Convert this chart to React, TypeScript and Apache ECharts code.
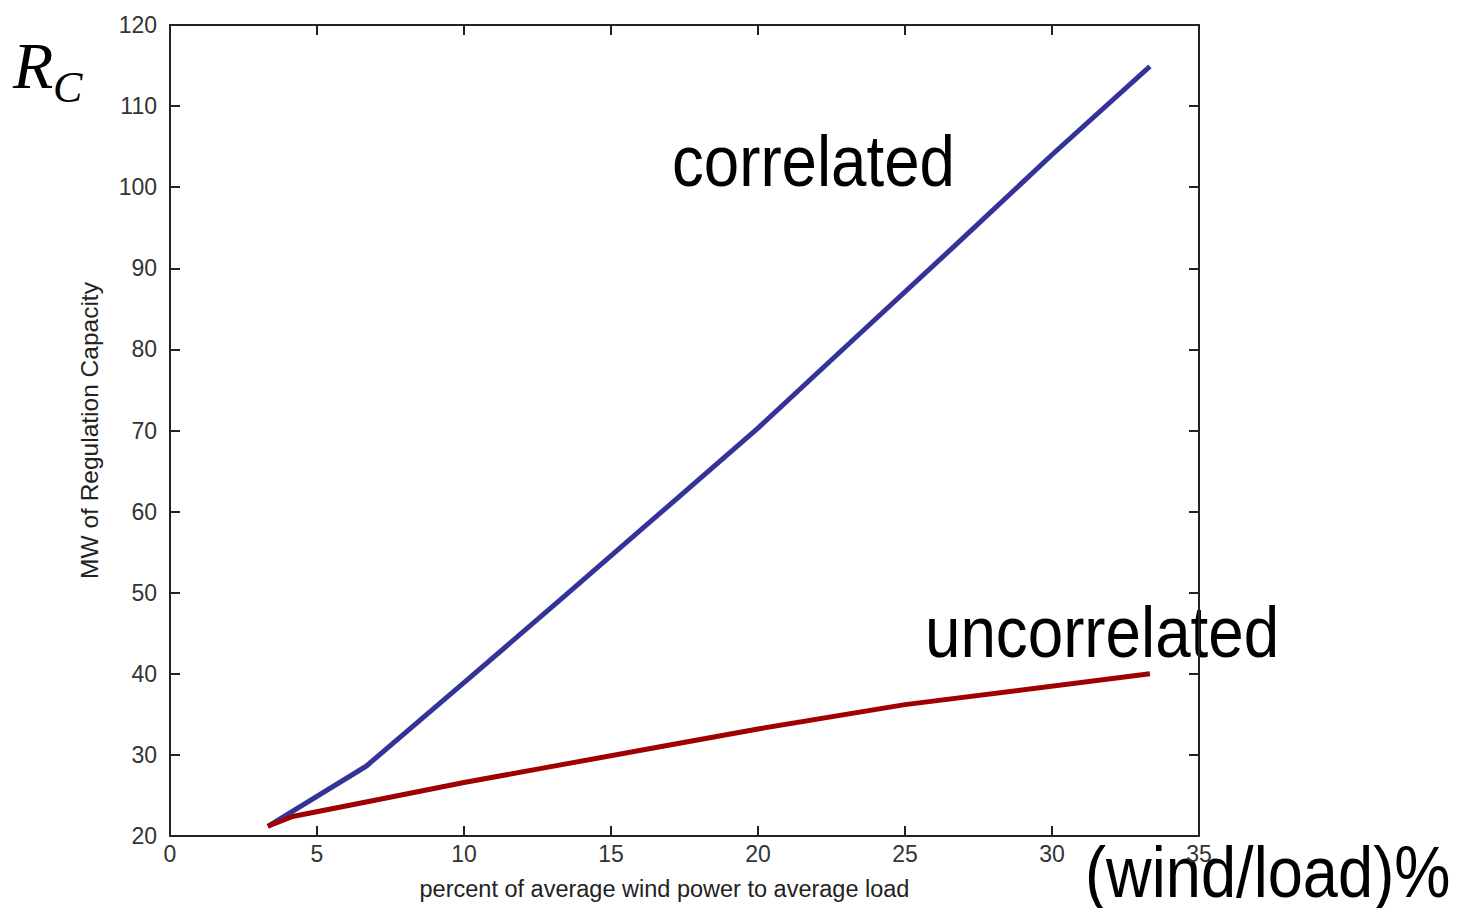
import React, { useEffect, useRef } from "react";
import * as echarts from "echarts";

const xTicks = [0, 5, 10, 15, 20, 25, 30, 35];
const yTicks = [20, 30, 40, 50, 60, 70, 80, 90, 100, 110, 120];

const correlatedX = [3.33, 6.67, 10, 13.33, 16.67, 20, 23.33, 26.67, 30, 33.33];
const correlatedY = [21.2, 28.6, 38.9, 49.3, 59.8, 70.3, 81.5, 92.7, 104.0, 114.9];

const uncorrelatedX = [3.33, 4.17, 6.67, 10, 13.33, 16.67, 20, 25, 33.33];
const uncorrelatedY = [21.2, 22.4, 24.2, 26.6, 28.8, 31.0, 33.2, 36.2, 40.0];

const xName = "percent of average wind power to average load";
const yName = "MW of Regulation Capacity";

const tickFont = "'Liberation Sans Narrow', 'Arial Narrow', 'Liberation Sans', sans-serif";
const sansFont = "'Liberation Sans', Arial, Helvetica, sans-serif";
const serifFont = "'Liberation Serif', 'Times New Roman', serif";

export default function App() {
  const ref = useRef<HTMLDivElement>(null);

  useEffect(() => {
    if (!ref.current) return;
    const chart = echarts.init(ref.current, null, { renderer: "svg" });
    const mkLine = () => ({ show: true, onZero: false, lineStyle: { color: "#222", width: 2 } });
    const mkTick = () => ({ show: true, inside: true, length: 10, lineStyle: { color: "#222", width: 2 } });
    const xMin = xTicks[0];
    const xMax = xTicks[xTicks.length - 1];
    const yMin = yTicks[0];
    const yMax = yTicks[yTicks.length - 1];
    const option: any = {
      animation: false,
      backgroundColor: "#fff",
      grid: { left: 170, top: 25, right: 269, bottom: 72, containLabel: false },
      xAxis: [
        {
          type: "value",
          min: xMin,
          max: xMax,
          interval: 5,
          position: "bottom",
          z: 5,
          axisLine: mkLine(),
          axisTick: mkTick(),
          splitLine: { show: false },
          axisLabel: { color: "#333", fontFamily: tickFont, fontSize: 23, margin: 6 },
          name: xName,
          nameLocation: "middle",
          nameGap: 41,
          nameTextStyle: { color: "#222", fontFamily: sansFont, fontSize: 23.5, padding: [0, 40, 0, 0] },
        },
        {
          type: "value",
          min: xMin,
          max: xMax,
          interval: 5,
          position: "top",
          axisLine: mkLine(),
          axisTick: mkTick(),
          splitLine: { show: false },
          axisLabel: { show: false },
        },
      ],
      yAxis: [
        {
          type: "value",
          min: yMin,
          max: yMax,
          interval: 10,
          position: "left",
          axisLine: mkLine(),
          axisTick: mkTick(),
          splitLine: { show: false },
          axisLabel: { color: "#333", fontFamily: tickFont, fontSize: 23, margin: 13 },
          name: yName,
          nameLocation: "middle",
          nameGap: 68,
          nameTextStyle: { color: "#222", fontFamily: sansFont, fontSize: 24.5 },
        },
        {
          type: "value",
          min: yMin,
          max: yMax,
          interval: 10,
          position: "right",
          axisLine: mkLine(),
          axisTick: mkTick(),
          splitLine: { show: false },
          axisLabel: { show: false },
        },
      ],
      series: [
        {
          name: "correlated",
          type: "line",
          showSymbol: false,
          lineStyle: { color: "#333399", width: 5 },
          data: correlatedX.map((x, i) => [x, correlatedY[i]]),
        },
        {
          name: "uncorrelated",
          type: "line",
          showSymbol: false,
          lineStyle: { color: "#a00000", width: 5 },
          data: uncorrelatedX.map((x, i) => [x, uncorrelatedY[i]]),
        },
      ],
      graphic: [
        {
          type: "text",
          x: 13,
          y: 65,
          style: { text: "R", font: `italic 66px ${serifFont}`, fill: "#000", textAlign: "left", textVerticalAlign: "middle" },
        },
        {
          type: "text",
          x: 53,
          y: 87,
          style: { text: "C", font: `italic 44px ${serifFont}`, fill: "#000", textAlign: "left", textVerticalAlign: "middle" },
        },
        {
          type: "text",
          x: 672,
          y: 161,
          scaleX: 0.884,
          style: { text: "correlated", font: `72px ${sansFont}`, fill: "#000", textAlign: "left", textVerticalAlign: "middle" },
        },
        {
          type: "text",
          x: 925,
          y: 632,
          scaleX: 0.885,
          style: { text: "uncorrelated", font: `72px ${sansFont}`, fill: "#000", textAlign: "left", textVerticalAlign: "middle" },
        },
        {
          type: "text",
          x: 1085,
          y: 872,
          z: -1,
          scaleX: 0.878,
          style: { text: "(wind/load)%", font: `72px ${sansFont}`, fill: "#000", textAlign: "left", textVerticalAlign: "middle" },
        },
      ],
    };
    chart.setOption(option);
    return () => chart.dispose();
  }, []);

  return (
    <div
      ref={ref}
      style={{ position: "fixed", left: 0, top: 0, width: 1468, height: 908, background: "#fff" }}
    />
  );
}
